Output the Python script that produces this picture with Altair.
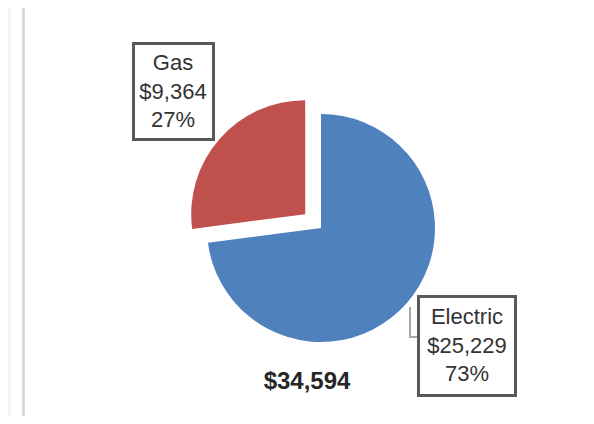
import math
import altair as alt
import pandas as pd

# ---- data ----
categories = ["Electric", "Gas"]
costs = [25229, 9364]
total_shown = [34594]
colors = ["#4F81BD", "#C0504D"]

df = pd.DataFrame({"category": categories, "cost": costs})
grand = sum(costs)

# ---- layout (chart pixel coordinates) ----
W, H = 578, 408
CX, CY, R = 313, 220, 114
EXPLODE = 21
FONT = "Liberation Sans"

theta_scale = alt.Scale(domain=[0, grand], range=[0, 2 * math.pi])
color_scale = alt.Scale(domain=categories, range=colors)

base = (
    alt.Chart(df)
    .transform_window(cum="sum(cost)", frame=[None, 0])
    .transform_calculate(
        start="datum.cum - datum.cost",
        pct=f"round(datum.cost / {total_shown[0]} * 100)",
        label="datum.category + '\\n$' + format(datum.cost, ',') + '\\n' + datum.pct + '%'",
    )
)

# explode offsets (Gas pulled out along its bisector)
offsets = {}
acc = 0
for c, v in zip(categories, costs):
    mid = (acc + v / 2) / grand * 2 * math.pi
    acc += v
    d = EXPLODE if c == "Gas" else 0
    offsets[c] = (math.sin(mid) * d, -math.cos(mid) * d)

# label boxes: (x1, y1, x2, y2, text x, first-line y)
boxes = {
    "Gas": (125.5, 35.5, 205.5, 131.5, 165, 55),
    "Electric": (410.5, 288.5, 507.5, 387.5, 459, 309),
}

layers = []

# background decoration
deco = alt.Chart(pd.DataFrame({"k": [0]}))
layers.append(
    deco.mark_rect(color="#f3f3f3").encode(
        x=alt.value(0), x2=alt.value(3), y=alt.value(0), y2=alt.value(H)
    )
)
layers.append(
    deco.mark_rect(color="#d9d9d9").encode(
        x=alt.value(14), x2=alt.value(17), y=alt.value(0), y2=alt.value(H)
    )
)

for c in categories:
    dx, dy = offsets[c]
    sub = base.transform_filter(alt.datum.category == c)
    layers.append(
        sub.mark_arc(outerRadius=R).encode(
            theta=alt.Theta("start:Q", scale=theta_scale),
            theta2="cum:Q",
            color=alt.Color("category:N", scale=color_scale, legend=None),
            x=alt.value(CX + dx),
            y=alt.value(CY + dy),
        )
    )

# leader line for Electric
layers.append(
    deco.mark_rule(color="#a6a6a6", strokeWidth=2).encode(
        x=alt.value(402), y=alt.value(299), y2=alt.value(329)
    )
)
layers.append(
    deco.mark_rule(color="#a6a6a6", strokeWidth=2).encode(
        x=alt.value(401), x2=alt.value(410), y=alt.value(329)
    )
)

for c in categories:
    x1, y1, x2, y2, tx, ty = boxes[c]
    sub = base.transform_filter(alt.datum.category == c)
    layers.append(
        sub.mark_rect(fill="white", stroke="#595959", strokeWidth=3).encode(
            x=alt.value(x1), x2=alt.value(x2), y=alt.value(y1), y2=alt.value(y2)
        )
    )
    layers.append(
        sub.mark_text(
            font=FONT, fontSize=22, color="#333333", align="center",
            baseline="middle", lineBreak="\n", lineHeight=28.5,
        ).encode(text="label:N", x=alt.value(tx), y=alt.value(ty))
    )

layers.append(
    alt.Chart(pd.DataFrame({"total": total_shown}))
    .mark_text(font=FONT, fontSize=24, fontWeight="bold", color="#262626",
               align="center", baseline="middle")
    .encode(text=alt.Text("total:Q", format="$,d"), x=alt.value(299), y=alt.value(374))
)

chart = (
    alt.layer(*layers)
    .properties(width=W, height=H, padding=0, autosize=alt.AutoSizeParams(type="none"))
    .configure_view(stroke=None)
)

chart.save("out.html", embed_options={"renderer": "svg", "actions": False})
